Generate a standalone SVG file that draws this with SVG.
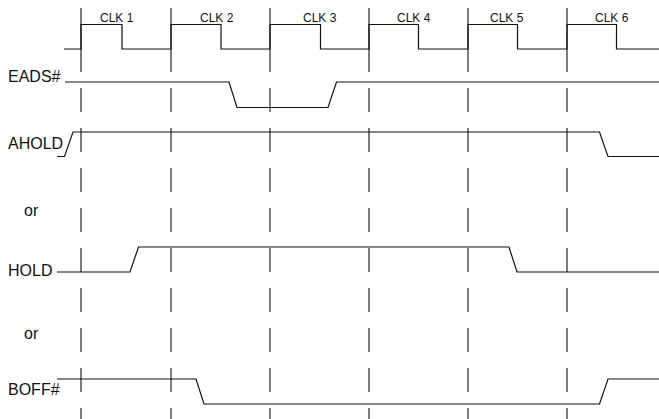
<svg xmlns="http://www.w3.org/2000/svg" width="659" height="419" viewBox="0 0 659 419">
<style>
.sig{fill:none;stroke:#111;stroke-width:1.2}
.grid{stroke:#111;stroke-width:1.1}
.dash{stroke:#111;stroke-width:1.1;stroke-dasharray:24 16}
.lbl{font-family:"Liberation Sans",Arial,sans-serif;font-size:16px;fill:#111}
.clk{font-family:"Liberation Sans",Arial,sans-serif;font-size:12px;fill:#111}
</style>
<rect width="659" height="419" fill="#fff"/>
<g id="gridlines">
<line class="grid" x1="81" y1="8" x2="81" y2="72"/>
<line class="grid" x1="171" y1="8" x2="171" y2="72"/>
<line class="grid" x1="270" y1="8" x2="270" y2="72"/>
<line class="grid" x1="369" y1="8" x2="369" y2="72"/>
<line class="grid" x1="468" y1="8" x2="468" y2="72"/>
<line class="grid" x1="567" y1="8" x2="567" y2="72"/>
<line class="dash" x1="81" y1="88" x2="81" y2="419"/>
<line class="dash" x1="171" y1="88" x2="171" y2="419"/>
<line class="dash" x1="270" y1="88" x2="270" y2="419"/>
<line class="dash" x1="369" y1="88" x2="369" y2="419"/>
<line class="dash" x1="468" y1="88" x2="468" y2="419"/>
<line class="dash" x1="567" y1="88" x2="567" y2="419"/>
</g>
<g id="clk">
<path class="sig" d="M64 49H81V24.5H122V49H171V24.5H221V49H270V24.5H320.5V49H369V24.5H418.5V49H468V24.5H517.5V49H567V24.5H616.5V49H659"/>
<text class="clk" x="100" y="22">CLK 1</text>
<text class="clk" x="200" y="22">CLK 2</text>
<text class="clk" x="303" y="22">CLK 3</text>
<text class="clk" x="397" y="22">CLK 4</text>
<text class="clk" x="490" y="22">CLK 5</text>
<text class="clk" x="595" y="22">CLK 6</text>
</g>
<g id="eads">
<text class="lbl" x="8" y="82">EADS#</text>
<path class="sig" d="M65 82H229L237 107.5H328L336.5 82H659"/>
</g>
<g id="ahold">
<text class="lbl" x="8" y="149">AHOLD</text>
<path class="sig" d="M57 156.5H64.5L73 132H599.5L608 156.5H659"/>
</g>
<g id="or1">
<text class="lbl" x="24" y="216">or</text>
</g>
<g id="hold">
<text class="lbl" x="8" y="276">HOLD</text>
<path class="sig" d="M57 272H130L138.5 247H509L517 272H659"/>
</g>
<g id="or2">
<text class="lbl" x="24" y="339">or</text>
</g>
<g id="boff">
<text class="lbl" x="8" y="395">BOFF#</text>
<path class="sig" d="M57 379H196L204 404H599.5L608 379H659"/>
</g>
</svg>
